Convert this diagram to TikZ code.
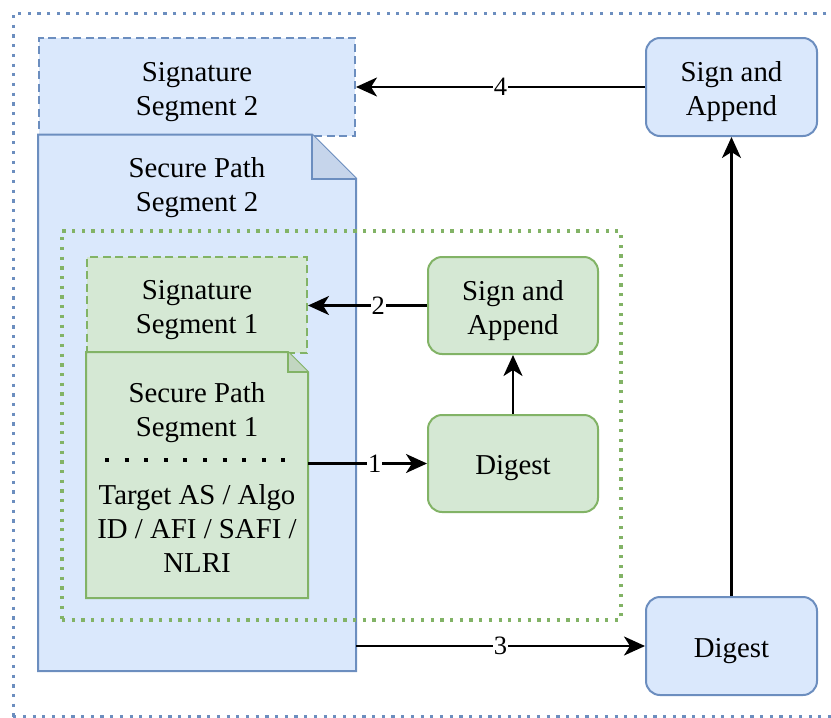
\documentclass[tikz,border=0pt]{standalone}
\usepackage{fontspec}
\setmainfont{Liberation Serif}
\usetikzlibrary{arrows.meta,calc}
\definecolor{bluefill}{HTML}{DAE8FC}
\definecolor{bluedraw}{HTML}{6C8EBF}
\definecolor{bluefold}{HTML}{C6D5EB}
\definecolor{greenfill}{HTML}{D5E8D4}
\definecolor{greendraw}{HTML}{82B366}
\definecolor{greenfold}{HTML}{C2D6C1}

\begin{document}
\begin{tikzpicture}[x=1pt,y=-1pt,
  every node/.style={font=\fontsize{28.8}{34}\selectfont, align=center, inner sep=0pt},
  inside/.style={label={[yshift=-5pt]center:#1}},
  box/.style={rectangle, minimum width=171pt, minimum height=97pt, rounded corners=14pt, line width=2pt},
  bluebox/.style={box, draw=bluedraw, fill=bluefill},
  greenbox/.style={box, draw=greendraw, fill=greenfill},
  area/.style={rectangle, line width=2pt},
  sigbox/.style={rectangle, line width=2pt, dash pattern=on 8pt off 4.5pt},
  framebox/.style={rectangle, line width=3.2pt, dash pattern=on 3.2pt off 6.5pt},
  flow/.style={line width=2.3pt, -{Stealth[length=21pt,width=19pt,inset=6pt]}},
  numlabel/.style={fill=white, font=\fontsize{26.5}{30}\selectfont, inner sep=1pt},
  docline/.style={line width=2pt, line join=miter},
]
\useasboundingbox (0,0) rectangle (831,718);

% outer frame (its right side lies past the page edge)
\node[framebox, draw=bluedraw, minimum width=821pt, minimum height=703.7pt] (outer) at (423.65,365.15) {};

% second signature segment and secure path segment
\node[sigbox, draw=bluedraw, fill=bluefill, minimum width=316pt, minimum height=97.5pt,
      inside={Signature\\Segment 2}] (sig2) at (197,86.75) {};
\node[area, minimum width=316pt, minimum height=534.5pt] (sp2) at (197,402.75) {};
\draw[docline, draw=bluedraw, fill=bluefill] (sp2.south west) -- (sp2.north west) -- ([xshift=-44pt]sp2.north east) -- ([yshift=-44pt]sp2.north east) -- (sp2.south east) -- cycle;
\draw[docline, draw=bluedraw, fill=bluefold] ([xshift=-44pt]sp2.north east) -- ([xshift=-44pt,yshift=-44pt]sp2.north east) -- ([yshift=-44pt]sp2.north east);
\node (sp2text) at (197,188) {Secure Path\\Segment 2};

% first hop group
\node[framebox, draw=greendraw, minimum width=559pt, minimum height=389pt] (inner) at (341.5,425.5) {};
\node[sigbox, draw=greendraw, fill=greenfill, minimum width=220pt, minimum height=96pt,
      inside={Signature\\Segment 1}] (sig1) at (197,305) {};
\node[area, minimum width=220pt, minimum height=244pt] (sp1) at (197,475) {};
\draw[docline, draw=greendraw, fill=greenfill] (sp1.south west) -- (sp1.north west) -- ([xshift=-20pt]sp1.north east) -- ([yshift=-20pt]sp1.north east) -- (sp1.south east) -- cycle;
\draw[docline, draw=greendraw, fill=greenfold] ([xshift=-20pt]sp1.north east) -- ([xshift=-20pt,yshift=-20pt]sp1.north east) -- ([yshift=-20pt]sp1.north east);
\node (sp1text) at (197,413) {Secure Path\\Segment 1};
\coordinate (dotsL) at (105,460);
\coordinate (dotsR) at (287,460);
\draw[line width=4pt, dash pattern=on 4pt off 15.6pt] (dotsL) -- (dotsR);
\node (fields) at (197,529) {Target AS / Algo\\ID / AFI / SAFI /\\NLRI};

% processing steps
\node[greenbox, minimum width=170pt, inside={Sign and\\Append}] (sa1) at (513,305.5) {};
\node[greenbox, minimum width=170pt, inside={Digest}] (dig1) at (513,463.5) {};
\node[bluebox, minimum height=98pt, inside={Sign and\\Append}] (sa2) at (731.5,87) {};
\node[bluebox, minimum height=98pt, inside={Digest}] (dig2) at (731.5,646) {};

% connectors
\draw[flow] (sp1.east |- dig1.west) -- node[numlabel, pos=0.56] {1} (dig1.west);
\draw[flow] (dig1.north) -- (sa1.south);
\draw[flow] (sa1.west) -- node[numlabel, pos=0.41] {2} (sig1.east |- sa1.west);
\draw[flow] (sp2.east |- dig2.west) -- node[numlabel, pos=0.5] {3} (dig2.west);
\draw[flow] (dig2.north) -- (sa2.south);
\draw[flow] (sa2.west) -- node[numlabel, pos=0.5] {4} (sig2.east |- sa2.west);
\end{tikzpicture}
\end{document}
